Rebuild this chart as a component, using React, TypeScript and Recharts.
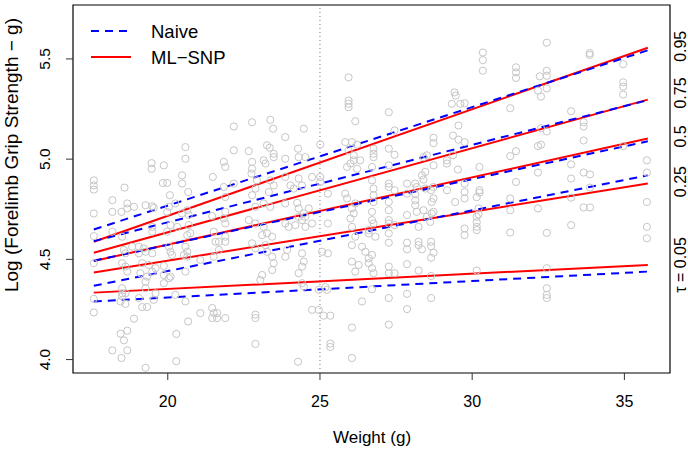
import React from "react";
import {
  ComposedChart,
  Scatter,
  Line,
  XAxis,
  YAxis,
  ReferenceLine,
  ReferenceArea,
} from "recharts";

// weight (g), log forelimb grip strength
const mice: [number, number][] = [
  [20.58, 5.06], [20.58, 5.002], [19.47, 4.98], [19.47, 4.952], [19.87, 4.969], [17.57, 4.894], [17.57, 4.869], [17.57, 4.848],
  [18.58, 4.858], [19.84, 4.881], [19.98, 4.881], [20.47, 4.919], [20.47, 4.878], [20.67, 4.836], [18.18, 4.795], [20.07, 4.82],
  [20.25, 4.779], [20.04, 4.762], [21.48, 4.911], [18.67, 4.779], [18.89, 4.762], [18.67, 4.754], [18.18, 4.737], [18.48, 4.737],
  [17.57, 4.729], [19.27, 4.77], [19.49, 4.765], [19.54, 4.757], [19.98, 4.737], [20.47, 4.729], [20.64, 4.745], [20.69, 4.721],
  [20.09, 4.671], [20.31, 4.662], [19.98, 4.638], [20.69, 4.671], [20.74, 4.63], [20.64, 4.621], [21.46, 4.716], [21.51, 4.638],
  [21.57, 4.588], [21.68, 4.588], [19.49, 4.662], [19.49, 4.638], [18.18, 4.638], [17.57, 4.616], [18.5, 4.613], [18.83, 4.563],
  [19.05, 4.563], [19.21, 4.555], [19.27, 4.538], [19.05, 4.53], [19.49, 4.53], [18.56, 4.547], [18.61, 4.53], [20.04, 4.563],
  [20.09, 4.538], [20.14, 4.522], [20.58, 4.563], [20.64, 4.538], [20.53, 4.522], [20.64, 4.513], [21.51, 4.513], [21.68, 4.547],
  [17.57, 4.481], [18.5, 4.481], [18.61, 4.464], [18.67, 4.439], [19.16, 4.481], [19.38, 4.472], [19.49, 4.439], [19.6, 4.456],
  [19.87, 4.467], [19.87, 4.422], [20.04, 4.406], [20.09, 4.414], [20.58, 4.439], [21.07, 4.497], [19.1, 4.431], [19.32, 4.414],
  [19.27, 4.389], [19.27, 4.356], [19.87, 4.381], [18.5, 4.356], [18.5, 4.331], [18.5, 4.315], [18.61, 4.331], [17.57, 4.303],
  [18.45, 4.29], [18.61, 4.278], [19.05, 4.307], [19.16, 4.262], [19.32, 4.262], [19.6, 4.331], [19.54, 4.298], [20.25, 4.323],
  [20.58, 4.29], [21.07, 4.232], [21.46, 4.257], [21.51, 4.232], [21.62, 4.232], [21.46, 4.207], [21.62, 4.207], [17.57, 4.235],
  [18.89, 4.204], [20.67, 4.19], [18.45, 4.129], [18.67, 4.144], [18.56, 4.096], [20.28, 4.128], [18.18, 4.046], [18.67, 4.046],
  [18.48, 4.008], [20.28, 3.992], [19.27, 3.959],
  [25.94, 5.408], [25.94, 5.292], [25.94, 5.276], [25.94, 5.259], [26.16, 5.189], [22.17, 5.163], [22.77, 5.184], [23.37, 5.196],
  [23.46, 5.152], [23.86, 5.11], [24.47, 5.152], [22.17, 5.044], [22.66, 5.04], [23.26, 5.069], [23.35, 5.057], [23.48, 5.027],
  [23.48, 5.01], [23.15, 4.994], [23.21, 4.978], [23.86, 5.002], [24.28, 5.052], [24.3, 5.01], [24.52, 5.01], [25.01, 5.073],
  [21.84, 4.986], [21.89, 4.961], [22.77, 4.986], [22.77, 4.952], [22.75, 4.928], [25.83, 5.085], [25.94, 5.044], [26.11, 5.019],
  [26.11, 4.994], [26.0, 4.978], [26.22, 4.952], [25.89, 4.961], [26.32, 4.994], [22.17, 4.878], [22.88, 4.853], [22.93, 4.894],
  [22.77, 4.82], [23.37, 4.894], [23.48, 4.869], [23.32, 4.836], [23.86, 4.911], [24.03, 4.869], [24.14, 4.853], [24.3, 4.903],
  [24.41, 4.869], [24.74, 4.911], [25.01, 4.911], [25.01, 4.886], [25.26, 4.828], [21.84, 4.861], [21.89, 4.811], [23.15, 4.779],
  [22.88, 4.762], [23.37, 4.762], [23.86, 4.779], [24.25, 4.782], [24.3, 4.754], [24.47, 4.729], [24.63, 4.754], [25.83, 4.828],
  [25.89, 4.804], [26.05, 4.754], [26.11, 4.729], [26.16, 4.779], [26.0, 4.704], [21.89, 4.737], [21.84, 4.704], [21.89, 4.679],
  [22.66, 4.696], [22.88, 4.679], [23.15, 4.662], [23.26, 4.63], [23.1, 4.621], [23.43, 4.613], [23.86, 4.679], [23.97, 4.662],
  [24.19, 4.671], [24.3, 4.712], [24.41, 4.696], [24.52, 4.712], [24.52, 4.662], [24.74, 4.679], [25.26, 4.679], [26.05, 4.662],
  [26.16, 4.613], [26.6, 4.646], [26.6, 4.63], [21.89, 4.613], [21.89, 4.588], [22.77, 4.58], [22.88, 4.555], [23.21, 4.571],
  [23.26, 4.538], [23.43, 4.513], [23.48, 4.481], [23.43, 4.447], [23.92, 4.547], [23.86, 4.513], [24.41, 4.53], [24.47, 4.489],
  [24.41, 4.464], [24.3, 4.431], [25.07, 4.538], [25.26, 4.53], [26.05, 4.571], [26.05, 4.489], [26.16, 4.439], [26.27, 4.472],
  [26.38, 4.563], [26.49, 4.538], [26.6, 4.505], [26.6, 4.481], [23.1, 4.422], [23.04, 4.397], [24.41, 4.381], [24.47, 4.364],
  [24.96, 4.348], [25.18, 4.361], [25.23, 4.348], [26.38, 4.29], [21.89, 4.207], [22.88, 4.224], [22.88, 4.207], [24.74, 4.248],
  [24.96, 4.248], [25.12, 4.219], [25.34, 4.219], [26.05, 4.16], [22.88, 4.078], [25.34, 4.08], [25.34, 4.063], [26.05, 4.008],
  [24.28, 3.989], [26.05, 5.085], [26.22, 5.072],
  [30.35, 5.532], [30.35, 5.494], [30.35, 5.441], [31.44, 5.458], [31.44, 5.433], [31.44, 5.405], [29.42, 5.333], [29.46, 5.317],
  [29.33, 5.276], [29.61, 5.276], [29.75, 5.279], [27.26, 5.234], [31.25, 5.254], [29.55, 5.168], [27.45, 5.143], [29.37, 5.118],
  [29.55, 5.097], [29.75, 5.085], [28.73, 5.107], [28.73, 5.08], [26.76, 5.052], [26.76, 5.027], [26.76, 5.01], [27.26, 5.052],
  [27.45, 5.022], [31.25, 5.015], [31.44, 5.04], [28.4, 5.01], [28.51, 5.019], [28.73, 4.969], [29.17, 4.994], [29.17, 4.978],
  [26.71, 4.961], [27.26, 4.969], [29.37, 5.019], [29.53, 4.948], [30.24, 4.961], [28.35, 4.919], [28.46, 4.936], [28.4, 4.898],
  [27.86, 4.878], [28.13, 4.878], [28.18, 4.861], [28.46, 4.853], [28.73, 4.861], [28.65, 4.845], [31.44, 4.886], [27.26, 4.878],
  [27.26, 4.861], [27.45, 4.845], [29.75, 4.878], [29.75, 4.836], [29.75, 4.804], [30.24, 4.845], [30.24, 4.833], [29.17, 4.845],
  [26.76, 4.853], [26.76, 4.82], [26.76, 4.786], [27.86, 4.828], [28.13, 4.825], [28.13, 4.795], [28.13, 4.77], [28.18, 4.737],
  [28.73, 4.804], [28.67, 4.786], [29.44, 4.786], [27.26, 4.786], [27.26, 4.745], [27.86, 4.721], [28.4, 4.745], [28.67, 4.729],
  [28.73, 4.737], [28.51, 4.712], [28.62, 4.687], [28.24, 4.662], [31.25, 4.804], [31.25, 4.745], [30.21, 4.754], [30.21, 4.725],
  [30.15, 4.712], [29.75, 4.654], [29.75, 4.621], [30.15, 4.662], [30.15, 4.646], [31.25, 4.634], [26.71, 4.696], [26.76, 4.679],
  [26.82, 4.613], [26.71, 4.737], [27.26, 4.696], [27.26, 4.679], [27.26, 4.63], [27.45, 4.671], [27.26, 4.583], [27.86, 4.583],
  [27.86, 4.55], [28.24, 4.588], [28.24, 4.571], [28.35, 4.55], [28.65, 4.588], [28.65, 4.566], [28.73, 4.533], [28.65, 4.508],
  [26.71, 4.522], [27.86, 4.476], [28.24, 4.444], [28.65, 4.417], [27.26, 4.464], [27.26, 4.431], [27.45, 4.431], [26.71, 4.456],
  [26.76, 4.431], [30.15, 4.444], [26.71, 4.351], [27.26, 4.307], [27.86, 4.328], [27.86, 4.252], [28.65, 4.307], [27.26, 4.174],
  [30.15, 4.81], [30.15, 4.686], [26.71, 4.894],
  [32.45, 5.581], [33.86, 5.529], [33.86, 5.52], [34.96, 5.474], [32.22, 5.413], [32.45, 5.441], [32.45, 5.416], [32.16, 5.342],
  [32.45, 5.353], [32.26, 5.312], [34.96, 5.383], [34.96, 5.362], [34.96, 5.322], [33.25, 5.239], [33.66, 5.184], [33.66, 5.163],
  [32.45, 5.138], [32.26, 5.154], [33.66, 5.093], [32.16, 5.065], [32.26, 5.072], [34.96, 5.065], [33.25, 4.974], [32.16, 4.933],
  [33.66, 4.933], [33.87, 4.924], [33.25, 4.903], [35.74, 4.994], [35.74, 4.933], [33.87, 4.858], [33.25, 4.808], [35.74, 4.786],
  [32.16, 4.754], [33.66, 4.759], [33.87, 4.759], [33.25, 4.671], [32.45, 4.632], [35.74, 4.662], [35.74, 4.605], [32.45, 4.456],
  [32.45, 4.356], [32.45, 4.323], [32.45, 4.307],
];

// quantile fits, tau = 0.95, 0.75, 0.5, 0.25, 0.05
const fitFrom = 17.57;
const fitTo = 35.77;
const naiveStart = [4.649, 4.591, 4.493, 4.368, 4.29];
const naiveEnd = [5.543, 5.294, 5.089, 4.919, 4.439];
const mlsnpStart = [4.588, 4.533, 4.492, 4.434, 4.334];
const mlsnpEnd = [5.556, 5.297, 5.103, 4.878, 4.472];

const tauLabels = ["0.95", "0.75", "0.5", "0.25", "\u03c4 = 0.05"];
const tauAt = [5.563, 5.33, 5.113, 4.888, 4.472];

const xTicks = [20, 25, 30, 35];
const yTicks = [4.0, 4.5, 5.0, 5.5];
const xDomain: [number, number] = [16.887, 36.498];
const yDomain: [number, number] = [3.933, 5.769];

const FONT = "'Liberation Sans', Arial, Helvetica, sans-serif";

const points = mice.map(([w, v]) => ({ w, v }));
const segment = (a: number, b: number) => [
  { w: fitFrom, v: a },
  { w: fitTo, v: b },
];

const Ring = (p: any) => (
  <circle cx={p.cx} cy={p.cy} r={3.6} fill="none" stroke="#c6c6c6" strokeWidth={1} />
);

const XTick = ({ x, y, payload }: any) => (
  <text x={x} y={y + 25} textAnchor="middle" fontFamily={FONT} fontSize={16} fill="#000">
    {payload.value}
  </text>
);

const YTick = ({ y, payload }: any) => (
  <text
    x={50}
    y={y}
    transform={`rotate(-90, 50, ${y})`}
    textAnchor="middle"
    fontFamily={FONT}
    fontSize={15.5}
    fill="#000"
  >
    {Number(payload.value).toFixed(1)}
  </text>
);

const TauTick = ({ x, y, payload }: any) => {
  const label = tauLabels[tauAt.indexOf(payload.value)];
  return (
    <text
      x={x + 16}
      y={y}
      transform={`rotate(-90, ${x + 16}, ${y})`}
      textAnchor="middle"
      fontFamily={FONT}
      fontSize={16}
      fill="#000"
    >
      {label}
    </text>
  );
};

export default function App() {
  return (
    <div style={{ position: "absolute", left: 0, top: 0, width: 688, height: 450, background: "#fff" }}>
      <ComposedChart width={688} height={450} margin={{ top: 5, right: 0, bottom: 47, left: 13 }}>
        <XAxis
          type="number"
          dataKey="w"
          domain={xDomain}
          ticks={xTicks}
          allowDataOverflow
          height={30}
          tickSize={7}
          tickLine={{ stroke: "#333" }}
          axisLine={false}
          tick={<XTick />}
        />
        <YAxis
          type="number"
          dataKey="v"
          domain={yDomain}
          ticks={yTicks}
          allowDataOverflow
          width={60}
          tickSize={7}
          tickLine={{ stroke: "#333" }}
          axisLine={false}
          tick={<YTick />}
        />
        <YAxis
          yAxisId="tau"
          orientation="right"
          type="number"
          domain={yDomain}
          ticks={tauAt}
          allowDataOverflow
          width={18}
          tickSize={0}
          tickMargin={0}
          tickLine={false}
          axisLine={false}
          tick={<TauTick />}
        />
        <ReferenceLine x={25} stroke="#777" strokeDasharray="1 3" strokeWidth={1} />
        <Scatter data={points} shape={Ring} isAnimationActive={false} />
        {mlsnpStart.map((a, i) => (
          <Line
            key={`m${i}`}
            data={segment(a, mlsnpEnd[i])}
            dataKey="v"
            type="linear"
            stroke="#ff0000"
            strokeWidth={2}
            dot={false}
            activeDot={false}
            isAnimationActive={false}
          />
        ))}
        {naiveStart.map((a, i) => (
          <Line
            key={`n${i}`}
            data={segment(a, naiveEnd[i])}
            dataKey="v"
            type="linear"
            stroke="#0000ff"
            strokeWidth={2}
            strokeDasharray="8 6"
            dot={false}
            activeDot={false}
            isAnimationActive={false}
          />
        ))}
        <ReferenceArea
          x1={xDomain[0]}
          x2={xDomain[1]}
          y1={yDomain[0]}
          y2={yDomain[1]}
          fill="none"
          stroke="#000"
          strokeWidth={1.2}
        />
      </ComposedChart>
      <svg
        width={688}
        height={450}
        style={{ position: "absolute", left: 0, top: 0, pointerEvents: "none" }}
        fontFamily={FONT}
      >
        <line x1={91} y1={31} x2={131} y2={31} stroke="#0000ff" strokeWidth={2} strokeDasharray="8 6" />
        <text x={151} y={38} fontSize={18.5}>Naive</text>
        <line x1={91} y1={57} x2={131} y2={57} stroke="#ff0000" strokeWidth={2} />
        <text x={151} y={64} fontSize={18.5}>ML{"\u2212"}SNP</text>
        <text x={372} y={443} textAnchor="middle" fontSize={17}>Weight (g)</text>
        <text x={18} y={155} transform="rotate(-90, 18, 155)" textAnchor="middle" fontSize={19}>
          Log (Forelimb Grip Strength {"\u2212"} g)
        </text>
      </svg>
    </div>
  );
}
